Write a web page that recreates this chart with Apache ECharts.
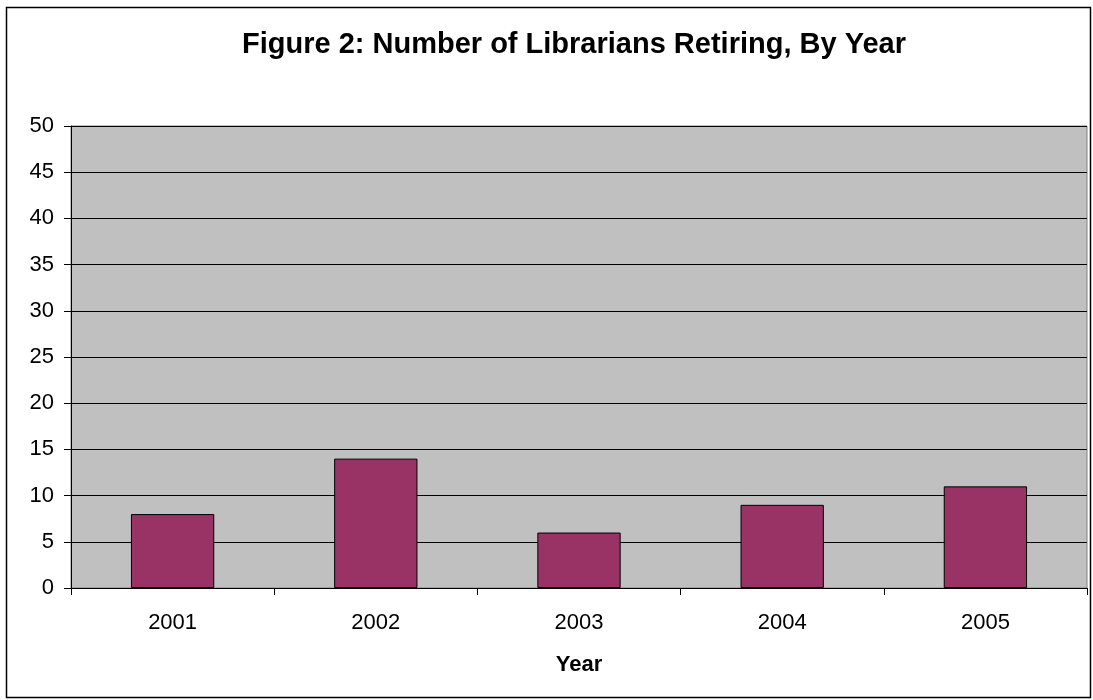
<!DOCTYPE html>
<html>
<head>
<meta charset="utf-8">
<script src="https://cdn.jsdelivr.net/npm/echarts@6/dist/echarts.min.js"></script>
<style>
html,body{margin:0;padding:0;background:#fff;}
#chart{width:1093px;height:700px;}
</style>
</head>
<body>
<div id="chart"></div>
<script>
const categories = ['2001', '2002', '2003', '2004', '2005'];
const retiring = [8, 14, 6, 9, 11];
const titleText = 'Figure 2: Number of Librarians Retiring, By Year';
const xAxisName = 'Year';

const chart = echarts.init(document.getElementById('chart'));
chart.setOption({
  animation: false,
  backgroundColor: '#ffffff',
  textStyle: { fontFamily: 'Liberation Sans, Arial, sans-serif' },
  graphic: [{
    type: 'rect',
    shape: { x: 6.5, y: 7.5, width: 1084, height: 690 },
    style: { fill: 'none', stroke: '#000', lineWidth: 1.5 },
    z: -10
  }],
  title: {
    text: titleText,
    left: 237,
    top: 25,
    textStyle: { fontSize: 29, fontWeight: 'bold', color: '#000', fontFamily: 'Liberation Sans, Arial, sans-serif' }
  },
  grid: {
    left: 71, top: 126, right: 6, bottom: 112,
    show: true, backgroundColor: '#C0C0C0', borderColor: '#808080', borderWidth: 1
  },
  xAxis: {
    type: 'category',
    data: categories,
    boundaryGap: true,
    name: xAxisName,
    nameLocation: 'middle',
    nameGap: 66,
    nameTextStyle: { fontSize: 22, fontWeight: 'bold', color: '#000' },
    axisLine: { show: true, lineStyle: { color: '#000', width: 1 } },
    axisTick: { show: true, length: 7, lineStyle: { color: '#000' } },
    axisLabel: { fontSize: 22, color: '#000', margin: 24 },
    splitLine: { show: false }
  },
  yAxis: {
    type: 'value',
    min: 0, max: 50, interval: 5,
    axisLine: { show: true, lineStyle: { color: '#000', width: 1 } },
    axisTick: { show: true, length: 7, lineStyle: { color: '#000' } },
    axisLabel: { fontSize: 22, color: '#000', margin: 17 },
    splitLine: { show: true, lineStyle: { color: '#000', width: 1 } }
  },
  series: [{
    type: 'bar',
    data: retiring,
    barWidth: '41%',
    itemStyle: { color: '#993366', borderColor: '#000', borderWidth: 1 }
  }]
});
</script>
</body>
</html>
